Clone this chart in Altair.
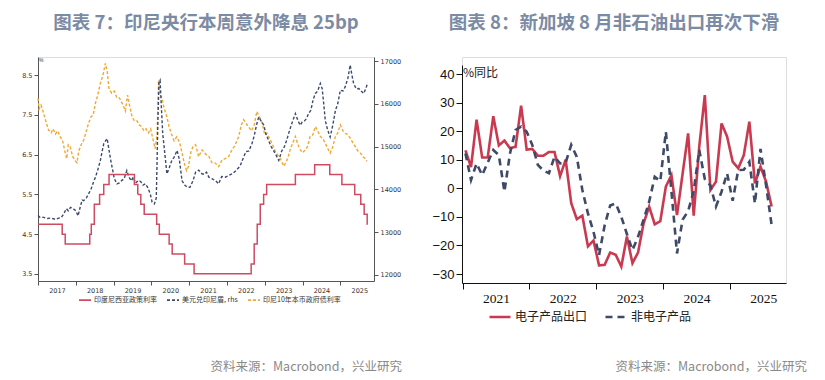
import altair as alt
import pandas as pd

# ---------------- Left chart (Indonesia) ----------------
RATE_T = [2017.00, 2017.64, 2017.72, 2018.37, 2018.41, 2018.49, 2018.63, 2018.74, 2018.88,
          2019.55, 2019.64, 2019.72, 2019.81, 2020.14, 2020.21, 2020.47, 2020.55, 2020.88,
          2021.13, 2022.64, 2022.72, 2022.80, 2022.88, 2022.97, 2023.05, 2023.81, 2024.32,
          2024.72, 2025.04, 2025.38, 2025.54, 2025.63, 2025.71, 2025.72]
RATE_V = [4.75, 4.50, 4.25, 4.50, 4.75, 5.25, 5.50, 5.75, 6.00,
          5.75, 5.50, 5.25, 5.00, 4.75, 4.50, 4.25, 4.00, 3.75,
          3.50, 3.75, 4.25, 4.75, 5.25, 5.50, 5.75, 6.00, 6.25,
          6.00, 5.75, 5.50, 5.25, 5.00, 4.75, 4.75]

IDR_T = [2017.00, 2017.05, 2017.15, 2017.25, 2017.35, 2017.46, 2017.55, 2017.62, 2017.68, 2017.75,
         2017.80, 2017.86, 2017.93, 2018.00, 2018.06, 2018.12, 2018.17, 2018.21, 2018.28, 2018.34,
         2018.40, 2018.46, 2018.52, 2018.58, 2018.65, 2018.70, 2018.74, 2018.80, 2018.83, 2018.87,
         2018.92, 2018.96, 2019.02, 2019.09, 2019.15, 2019.22, 2019.28, 2019.35, 2019.40, 2019.47,
         2019.52, 2019.58, 2019.66, 2019.72, 2019.78, 2019.84, 2019.90, 2019.97, 2020.02, 2020.08,
         2020.13, 2020.17, 2020.20, 2020.23, 2020.26, 2020.30, 2020.36, 2020.41, 2020.47, 2020.54,
         2020.60, 2020.68, 2020.74, 2020.81, 2020.88, 2020.95, 2021.02, 2021.10, 2021.17, 2021.25,
         2021.34, 2021.40, 2021.46, 2021.52, 2021.60, 2021.70, 2021.78, 2021.86, 2021.96, 2022.05,
         2022.15, 2022.25, 2022.35, 2022.44, 2022.50, 2022.58, 2022.66, 2022.72, 2022.78, 2022.84,
         2022.90, 2022.97, 2023.03, 2023.10, 2023.17, 2023.23, 2023.30, 2023.37, 2023.45, 2023.52,
         2023.58, 2023.63, 2023.70, 2023.76, 2023.81, 2023.88, 2023.94, 2023.99, 2024.05, 2024.10,
         2024.16, 2024.22, 2024.28, 2024.34, 2024.40, 2024.47, 2024.52, 2024.56, 2024.60, 2024.66,
         2024.73, 2024.80, 2024.87, 2024.93, 2025.00, 2025.07, 2025.13, 2025.20, 2025.26, 2025.30,
         2025.35, 2025.42, 2025.49, 2025.55, 2025.62, 2025.67, 2025.72]
IDR_V = [13390, 13350, 13346, 13320, 13330, 13300, 13330, 13350, 13425, 13550,
         13500, 13580, 13550, 13500, 13380, 13600, 13750, 13738, 13800, 13900,
         14000, 14150, 14285, 14450, 14676, 14900, 15068, 15150, 15186, 14970,
         14700, 14520, 14250, 14130, 14150, 14210, 14250, 14442, 14300, 14200,
         14290, 14150, 14210, 14180, 14100, 14130, 14050, 13895, 13700, 13660,
         13800, 15500, 16500, 16550, 16000, 15300, 14800, 14365, 14500, 14676,
         14750, 14911, 14700, 14207, 14100, 14050, 14050, 14200, 14400, 14450,
         14365, 14350, 14400, 14286, 14250, 14200, 14130, 14300, 14286, 14330,
         14370, 14450, 14550, 14754, 14880, 14900, 15068, 15250, 15500, 15693,
         15600, 15510, 15300, 15146, 15000, 14911, 14800, 14676, 14900, 15000,
         15150, 15303, 15500, 15650, 15772, 15600, 15500, 15576, 15600, 15650,
         15772, 15850, 16100, 16242, 16300, 16476, 16350, 16000, 15615, 15400,
         15224, 15500, 15850, 16000, 16320, 16300, 16400, 16600, 16906, 16700,
         16476, 16350, 16359, 16300, 16242, 16350, 16476]

Y10_T = [2017.00, 2017.03, 2017.08, 2017.15, 2017.22, 2017.28, 2017.35, 2017.40, 2017.46, 2017.52,
         2017.59, 2017.65, 2017.72, 2017.76, 2017.80, 2017.85, 2017.92, 2017.98, 2018.03, 2018.08,
         2018.14, 2018.21, 2018.28, 2018.34, 2018.40, 2018.46, 2018.52, 2018.58, 2018.65, 2018.72,
         2018.78, 2018.83, 2018.88, 2018.95, 2019.02, 2019.08, 2019.14, 2019.20, 2019.27, 2019.31,
         2019.37, 2019.42, 2019.49, 2019.55, 2019.62, 2019.68, 2019.75, 2019.80, 2019.86, 2019.92,
         2019.98, 2020.04, 2020.10, 2020.15, 2020.19, 2020.22, 2020.27, 2020.33, 2020.41, 2020.47,
         2020.54, 2020.60, 2020.67, 2020.75, 2020.82, 2020.88, 2020.93, 2020.98, 2021.04, 2021.10,
         2021.17, 2021.25, 2021.34, 2021.45, 2021.52, 2021.60, 2021.69, 2021.78, 2021.87, 2021.95,
         2022.04, 2022.13, 2022.22, 2022.31, 2022.38, 2022.44, 2022.50, 2022.57, 2022.65, 2022.72,
         2022.79, 2022.86, 2022.93, 2023.00, 2023.06, 2023.13, 2023.19, 2023.27, 2023.37, 2023.44,
         2023.50, 2023.56, 2023.62, 2023.67, 2023.74, 2023.81, 2023.88, 2023.94, 2024.00, 2024.07,
         2024.13, 2024.20, 2024.27, 2024.34, 2024.40, 2024.47, 2024.54, 2024.60, 2024.67, 2024.73,
         2024.80, 2024.87, 2024.93, 2025.00, 2025.07, 2025.13, 2025.20, 2025.26, 2025.33, 2025.39,
         2025.46, 2025.53, 2025.60, 2025.66, 2025.70]
Y10_V = [7.92, 7.65, 7.75, 7.54, 7.30, 7.12, 7.05, 7.15, 7.02, 7.10,
         6.95, 6.85, 6.55, 6.40, 6.75, 6.70, 6.45, 6.35, 6.30, 6.60,
         6.75, 6.87, 7.10, 7.30, 7.45, 7.50, 7.80, 8.00, 8.30, 8.50,
         8.80, 8.60, 8.15, 8.05, 8.10, 7.95, 7.95, 7.85, 7.70, 7.60,
         8.00, 7.75, 7.45, 7.35, 7.35, 7.25, 7.20, 7.10, 7.15, 7.05,
         7.15, 6.90, 6.65, 7.00, 8.38, 8.00, 7.95, 7.70, 7.45, 7.20,
         7.00, 6.85, 6.95, 6.80, 6.50, 6.25, 6.10, 6.20, 6.55, 6.70,
         6.75, 6.45, 6.62, 6.50, 6.46, 6.30, 6.29, 6.20, 6.37, 6.40,
         6.45, 6.62, 6.75, 6.96, 7.25, 7.38, 7.30, 7.20, 7.10, 7.25,
         7.59, 7.45, 7.30, 7.00, 7.04, 6.90, 6.79, 6.60, 6.46, 6.35,
         6.21, 6.30, 6.45, 6.62, 6.80, 6.96, 6.75, 6.62, 6.55, 6.62,
         6.70, 6.96, 7.00, 7.21, 7.10, 6.96, 6.90, 6.79, 6.65, 6.54,
         6.70, 6.96, 7.05, 7.25, 7.10, 7.04, 7.00, 6.92, 6.80, 6.71,
         6.60, 6.54, 6.45, 6.40, 6.33]

LEFT_SERIES = ["印度尼西亚政策利率", "美元兑印尼盾, rhs", "印尼10年本币政府债利率"]
LEFT_COLORS = ["#CE4B62", "#3D4A6E", "#F0A934"]
LEFT_YEARS = list(range(2017, 2026))
LEFT_TICKS = [3.5, 4.5, 5.5, 6.5, 7.5, 8.5]
RIGHT_TICKS_L = [12000, 13000, 14000, 15000, 16000, 17000]

# ---------------- Right chart (Singapore) ----------------
ELEC = [13.3, 7.4, 24.0, 10.8, 10.8, 25.2, 15.0, 16.7, 14.0, 14.5, 28.9, 13.5,
        13.8, 11.4, 11.4, 12.7, 12.7, 4.2, 10.0, -5.2, -10.8, -9.6, -20.3, -18.3,
        -27.0, -26.8, -22.5, -23.3, -27.4, -16.9, -26.2, -22.5, -12.3, -6.4, -12.6, -11.5,
        0.6, 4.6, -9.4, 5.0, 19.2, -9.6, 14.6, 32.6, -0.6, 2.3, 22.7, 18.1,
        9.3, 7.0, 11.6, 23.3, 1.7, 7.6, 2.3, -6.4]
NONELEC = [12.2, 2.9, 8.7, 4.6, 9.0, 13.4, 11.6, -1.2, 12.2, 20.4, 21.6, 19.8,
           15.2, 8.2, 6.2, 5.3, 11.0, 8.7, 9.0, 15.2, 11.0, -0.6, -8.8, -15.2,
           -23.4, -13.0, -6.0, -5.3, -10.0, -16.0, -21.6, -17.0, -11.0, -4.7, 4.0, 2.5,
           19.8, -1.0, -22.8, -11.0, -8.0, -1.0, 13.4, 3.2, 1.0, -6.4, -1.2, 5.2,
           -4.4, 6.4, 6.5, 9.3, -5.3, 13.8, 1.0, -12.9]
RIGHT_SERIES = ["电子产品出口", "非电子产品"]
RIGHT_COLORS = ["#C93A50", "#3E4A68"]
RIGHT_YEARS = [2021, 2022, 2023, 2024, 2025]
RIGHT_TICKS = [-30, -20, -10, 0, 10, 20, 30, 40]

TITLE_L = "图表 7：印尼央行本周意外降息 25bp"
TITLE_R = "图表 8：新加坡 8 月非石油出口再次下滑"
SOURCE = "资料来源：Macrobond，兴业研究"

CJK = "Noto Sans CJK SC"
TITLE_COLOR = "#7C8BA4"

# ---------- build left ----------
df_rate = pd.DataFrame({"t": RATE_T, "v": RATE_V, "s": LEFT_SERIES[0]})
df_idr = pd.DataFrame({"t": IDR_T, "v": IDR_V, "s": LEFT_SERIES[1]})
df_y10 = pd.DataFrame({"t": Y10_T, "v": Y10_V, "s": LEFT_SERIES[2]})

L_W, L_H = 336, 224
xL = alt.X("t:Q", title=None,
           scale=alt.Scale(domain=[2017.0, 2025.89], nice=False, zero=False),
           axis=alt.Axis(values=LEFT_YEARS, format="d", labelOffset=18.9, labelFlush=False,
                         labelFontSize=6.5, labelColor="#333", tickSize=4, tickColor="#555",
                         domainColor="#555", grid=False, labelPadding=2, labelFont="DejaVu Sans"))
ydomL = [3.32, 8.96]
yaxL = alt.Axis(values=LEFT_TICKS, format=".1f", labelFontSize=6.5, labelColor="#333", tickSize=4,
                tickColor="#555", domainColor="#555", grid=False, labelPadding=2, labelFont="DejaVu Sans")
yaxR = alt.Axis(values=RIGHT_TICKS_L, format="d", orient="right", labelFontSize=6.5, labelColor="#333",
                tickSize=4, tickColor="#555", domainColor="#555", grid=False, labelPadding=2,
                labelFont="DejaVu Sans")

leg_l = alt.Legend(orient="none", legendX=40, legendY=236, direction="horizontal", title=None,
                   symbolType="stroke", symbolSize=144, symbolStrokeWidth=1.8, labelFontSize=7,
                   labelFont=CJK, labelColor="#333", columnPadding=6, labelOffset=2, labelLimit=200)
colL = alt.Color("s:N", scale=alt.Scale(domain=LEFT_SERIES, range=LEFT_COLORS), legend=leg_l)
dashL = alt.StrokeDash("s:N", scale=alt.Scale(domain=LEFT_SERIES, range=[[1, 0], [3, 2], [3, 2]]), legend=leg_l)

orange = alt.Chart(df_y10).mark_line(strokeWidth=1.4).encode(
    x=xL, y=alt.Y("v:Q", title=None, scale=alt.Scale(domain=ydomL, nice=False, zero=False), axis=yaxL),
    color=colL, strokeDash=dashL)
navy = alt.Chart(df_idr).mark_line(strokeWidth=1.4).encode(
    x=xL, y=alt.Y("v:Q", title=None, scale=alt.Scale(domain=[11859, 17094], nice=False, zero=False), axis=yaxR),
    color=colL, strokeDash=dashL)
red = alt.Chart(df_rate).mark_line(strokeWidth=1.5, interpolate="step-after").encode(
    x=xL, y=alt.Y("v:Q", title=None, scale=alt.Scale(domain=ydomL, nice=False, zero=False), axis=None),
    color=colL, strokeDash=dashL)
src_l = alt.Chart(pd.DataFrame({"s": [SOURCE]})).mark_text(
    align="right", baseline="middle", font=CJK, fontSize=12.5, color="#8A8A8A").encode(
    text="s:N", x=alt.value(364), y=alt.value(310))
pct_l = alt.Chart(pd.DataFrame({"s": ["%"]})).mark_text(
    align="left", baseline="top", fontSize=5, color="#333").encode(
    text="s:N", x=alt.value(1), y=alt.value(1))

left = alt.layer(orange, navy, red, src_l, pct_l).resolve_scale(y="independent").properties(
    width=L_W, height=L_H,
    title=alt.TitleParams(TITLE_L, anchor="middle", fontSize=18.5, font=CJK, fontWeight="bold",
                          color=TITLE_COLOR, offset=25))

# ---------- build right ----------
months = pd.period_range("2021-01", periods=len(ELEC), freq="M")
tR = [p.year + (p.month - 0.5) / 12 for p in months]
df_r = pd.concat([
    pd.DataFrame({"t": tR, "v": ELEC, "s2": RIGHT_SERIES[0]}),
    pd.DataFrame({"t": tR, "v": NONELEC, "s2": RIGHT_SERIES[1]}),
])

R_W, R_H = 324, 226
xR = alt.X("t:Q", title=None,
           scale=alt.Scale(domain=[2020.99, 2025.84], nice=False, zero=False),
           axis=alt.Axis(values=RIGHT_YEARS, format="d", labelOffset=33.4, labelFlush=False,
                         labelFontSize=13.5, labelFont="Liberation Serif", labelColor="#111",
                         tickSize=6, tickColor="#111", domainColor="#111", grid=False, labelPadding=2))
yR = alt.Y("v:Q", title=None,
           scale=alt.Scale(domain=[-33.15, 43.15], range=[226, 8], nice=False, zero=False),
           axis=alt.Axis(values=RIGHT_TICKS, format="d", labelFontSize=13, labelFont="Liberation Sans",
                         labelColor="#111", tickSize=6, tickColor="#111", domainColor="#111",
                         grid=False, labelPadding=2))
leg_r = alt.Legend(orient="none", legendX=26, legendY=248, direction="horizontal", title=None,
                   symbolType="stroke", symbolSize=441, symbolStrokeWidth=2.6, labelFontSize=12,
                   labelFont=CJK, labelColor="#222", columnPadding=12, labelOffset=3, labelLimit=200)
lines_r = alt.Chart(df_r).mark_line(strokeWidth=2.6).encode(
    x=xR, y=yR,
    color=alt.Color("s2:N", scale=alt.Scale(domain=RIGHT_SERIES, range=RIGHT_COLORS), legend=leg_r),
    strokeDash=alt.StrokeDash("s2:N", scale=alt.Scale(domain=RIGHT_SERIES, range=[[1, 0], [7, 5]]), legend=leg_r))
src_r = alt.Chart(pd.DataFrame({"s": [SOURCE]})).mark_text(
    align="right", baseline="middle", font=CJK, fontSize=12.5, color="#8A8A8A").encode(
    text="s:N", x=alt.value(345), y=alt.value(310))
pct_r = alt.Chart(pd.DataFrame({"s": ["%同比"]})).mark_text(
    align="left", baseline="middle", font=CJK, fontSize=12, color="#222").encode(
    text="s:N", x=alt.value(1), y=alt.value(16))

right = alt.layer(lines_r, src_r, pct_r).properties(
    width=R_W, height=R_H,
    title=alt.TitleParams(TITLE_R, anchor="middle", fontSize=18.5, font=CJK, fontWeight="bold",
                          color=TITLE_COLOR, offset=25, dx=-10))

chart = alt.hconcat(left, right, spacing=88, bounds="flush").resolve_scale(
    color="independent", strokeDash="independent"
).resolve_legend(color="independent", strokeDash="independent").properties(
    padding={"left": 13, "top": 5, "right": 0, "bottom": 0}
).configure_view(stroke=None).configure(background="white")

chart.save("out.html", embed_options={"renderer": "svg", "actions": False})
